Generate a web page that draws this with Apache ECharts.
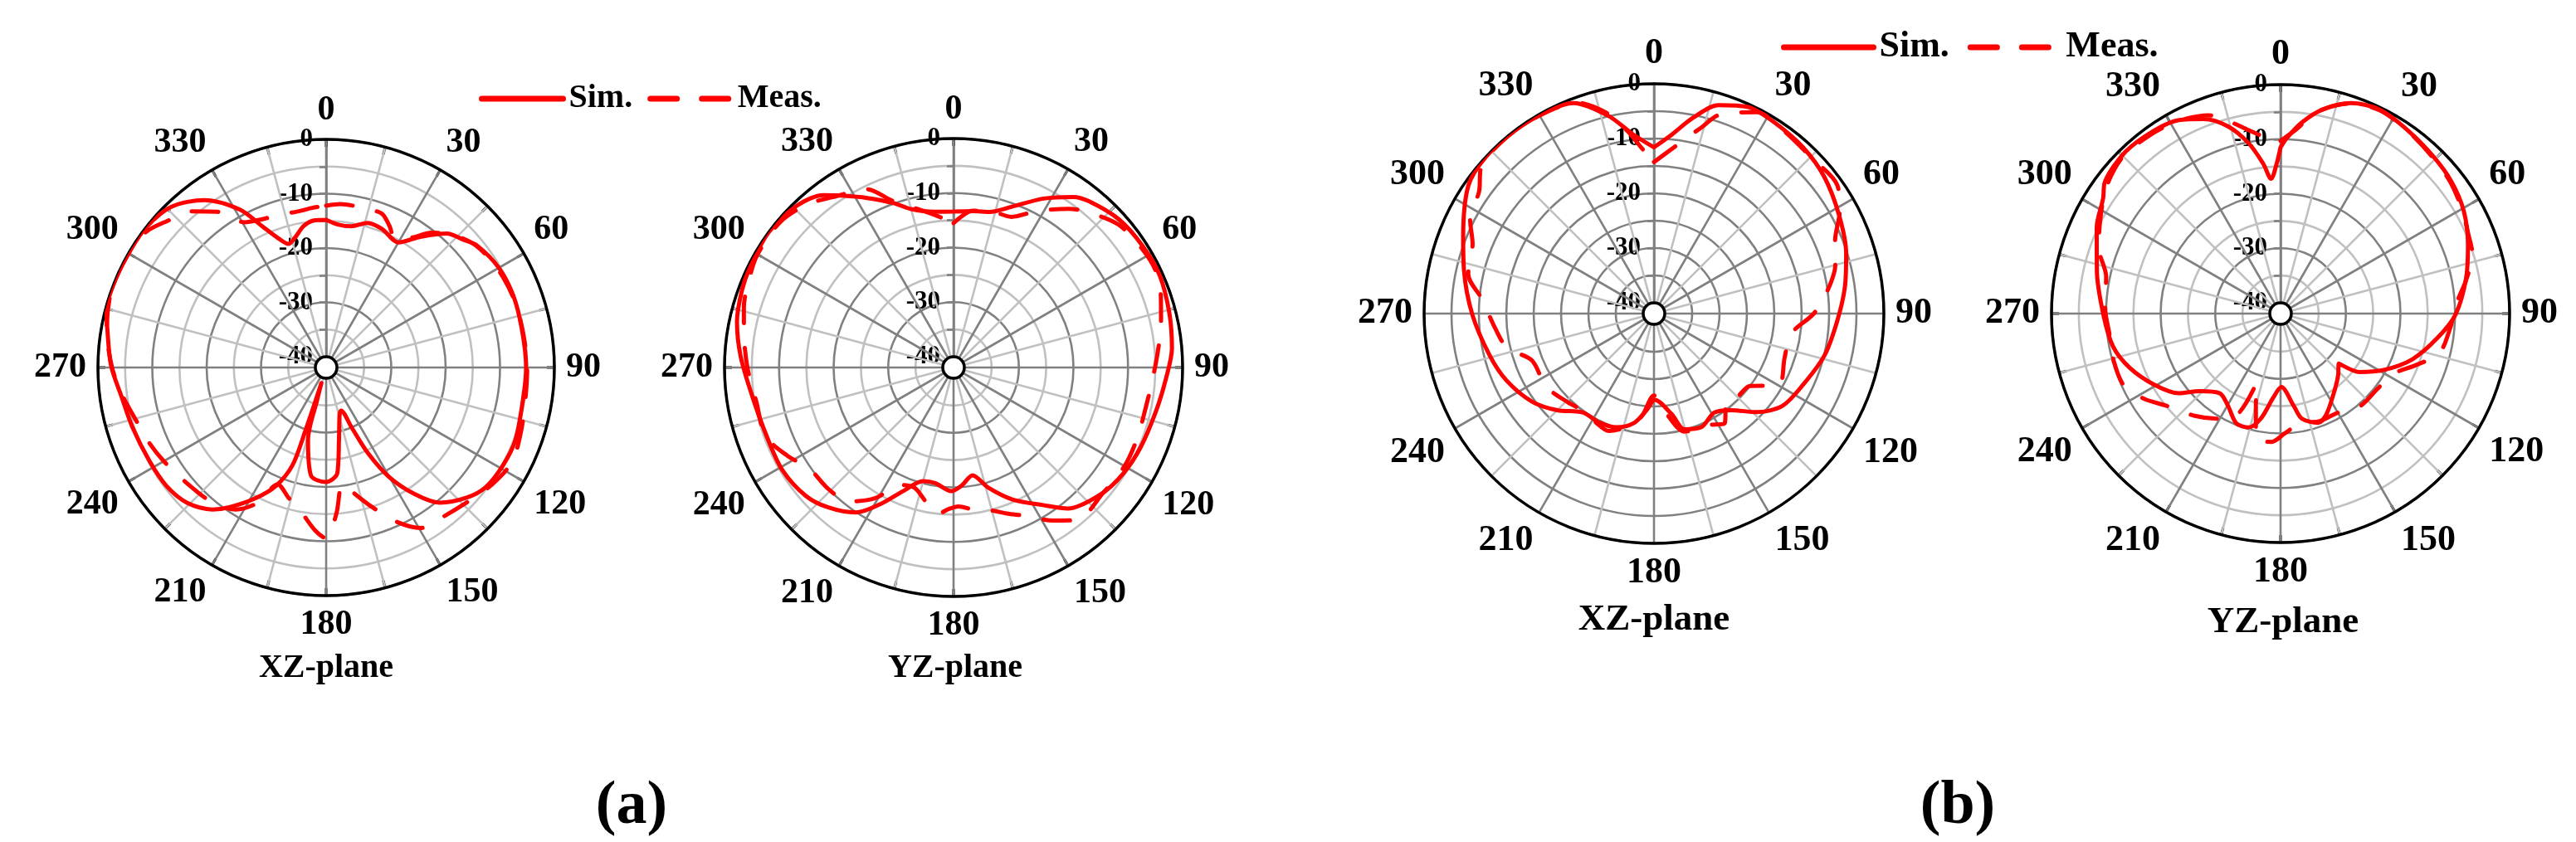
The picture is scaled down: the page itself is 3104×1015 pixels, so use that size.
<!DOCTYPE html>
<html><head><meta charset="utf-8">
<script src="https://cdn.jsdelivr.net/npm/echarts@6/dist/echarts.min.js"></script>
<style>html,body{margin:0;padding:0;background:#fff}#c{width:3104px;height:1015px}</style>
</head><body><div id="c"></div>
<script>
// ---------- tick labels ----------
const radiusTicks = [-40, -30, -20, -10, 0];
const angleTicks = [0, 30, 60, 90, 120, 150, 180, 210, 240, 270, 300, 330];
const legendNames = ['Sim.', 'Meas.'];
const panelTitles = ['XZ-plane', 'YZ-plane', 'XZ-plane', 'YZ-plane'];
const panelLetters = ['(a)', '(b)'];

// ---------- (a) XZ-plane ----------
const aXZ_sim_ang = [0,5,10,16,22,30,36,42,47,51,60,69,79,90,99,111,119,127,133,140,145,150,154,157,161,164,170,174,180,188,194,195.5,197,198.2,199,203,208.6,214.7,218.7,225.7,233.4,242,252.8,261.6,270.6,280.6,284.7,293,301,308,316,324,331.4,335.6,339.8,343,346.8,351,355.7,360];
const aXZ_sim_db  = [-14.8,-15.6,-15.6,-14.3,-14.5,-15.4,-12.2,-8.8,-7.5,-6.3,-5.3,-5.1,-5.3,-5.2,-5.3,-4.7,-4.8,-5.3,-6.8,-9.5,-13.5,-18.6,-24.5,-30,-33.6,-33,-28.4,-22.4,-20.9,-21.9,-28.2,-36,-39,-29.6,-23,-18.3,-14.5,-10.7,-8.5,-6.3,-5.4,-5.2,-4.7,-4.0,-2.4,-1,-0.2,0,0,0,-0.9,-3.9,-8.9,-13.4,-16.7,-18.2,-17.3,-15.6,-14.8,-14.8];
const aXZ_meas_ang = [0,5,10,15,20,24,28,33,38,44,50,57,64,71,80,90,102,110,117,125,133,141,149.5,155,161.7,167,172,176,180,184,190,196,202.5,207,212.5,220,231,240,247,255,262,270,280,290,300,307,313,319,325,330.6,336,343,349.7,355,360];
const aXZ_meas_db  = [-12.2,-11.8,-11.8,-11.8,-11.9,-13.4,-15,-13.5,-10.5,-8.2,-6.6,-5.8,-5.4,-5.2,-5.2,-5,-4.7,-4.1,-3.6,-4.6,-6,-7,-7.7,-10.5,-14.9,-18,-20.3,-15,-10.5,-12,-15.1,-17,-18.7,-14,-11,-9.5,-8.6,-7.5,-6.6,-5.6,-4.2,-2.6,-1,0,0,-0.5,-2.3,-3.9,-7,-11.3,-12.2,-12.6,-12.8,-12.5,-12.2];

// ---------- (a) YZ-plane ----------
const aYZ_sim_ang = [0,7,13,20,28,35,39,48,57,66,76,85,93,102,113,122,131,141,147,156,164,170,176,181,189,195,202,208,214,222,229,239,249,262,273,282,290,296,306,316,323,327,333,340,345,353,360];
const aYZ_sim_db  = [-13.4,-13.1,-12.7,-10.6,-6.9,-3.8,-2.7,-1.3,-0.8,-0.6,-1.2,-1.8,-3.0,-4.0,-4.7,-5.3,-6.4,-8.7,-11.9,-15.5,-19.1,-21.9,-20.3,-19.3,-20.5,-20.4,-17.6,-13.7,-9.9,-7.5,-6.1,-5.4,-5.5,-4.7,-2.9,-1.4,-0.7,-0.4,0,-0.7,-2.4,-4.4,-7.1,-9.9,-11.9,-13.2,-13.4];
const aYZ_meas_ang = [0,7,14,21,28,36,42,49,57,64,71,78,86,94,102,111,120,130,141,147,154,160,166,171,178,182,186,192,198,204,211,218,226,235,242,250,260,270,279,286,293,300,310,318,326,334,340,346,353,360];
const aYZ_meas_db  = [-15.5,-13,-12.5,-12.4,-9.5,-6,-4,-2,-1.2,-0.9,-1.8,-3.1,-4.5,-5.5,-6,-5.9,-5.8,-6.2,-6,-8.5,-11.7,-13.5,-15,-15.5,-16.5,-16,-15,-17,-18.8,-18.4,-14,-10.8,-10,-9.7,-7.5,-5.3,-5.3,-4.2,-3.1,-2,-1.2,-0.5,-0.5,-1.8,-4,-5.6,-9.5,-11.8,-13.8,-15.5];

// ---------- (b) XZ-plane ----------
const bXZ_sim_ang = [0,5.7,11.3,17.2,24.5,32,41.9,51.3,62,72.6,82.2,92.4,103.7,115.5,125.8,133.9,141.4,148.7,157.3,165.2,170,179.4,184.5,190.5,198.2,206.4,215.8,225,234.2,245.6,255.8,269.7,282.8,292,304.6,313,322.6,332.7,339.1,347,353.5,360];
const bXZ_sim_db  = [-11.6,-9.1,-5.5,-2.1,-0.5,-0.7,-1.2,-2.1,-3.7,-5.2,-6.8,-8.5,-9.9,-11.8,-13.1,-16,-19.4,-20.8,-19.5,-20.1,-23.3,-26.2,-24.2,-21.6,-20.1,-19.7,-19.7,-17,-14.5,-12.4,-11,-8.8,-6.4,-4.4,-0.8,0,0,-0.2,-0.8,-4.9,-9.1,-11.6];
const bXZ_meas_ang = [0,6,14,18.5,27,35,45,55,61,68,75,83,90,98.5,108.6,120,127,135,140,147,154,165.5,172,180,187,194,201,209,216,224,236,249,257,266,274.5,282,291,297,305,310,320,330,340,347,352,355.4,360];
const bXZ_meas_db  = [-14.3,-11.8,-7.1,-3.6,-0.7,-1,-1.5,-1.1,-3.2,-6.3,-7.7,-10.2,-12.8,-16.7,-16.8,-15.7,-20,-20.5,-21.5,-18.2,-19.3,-19.7,-23,-27,-23,-20.6,-19,-19.5,-20,-19.4,-18.2,-18.1,-14.4,-12.6,-10.6,-7.3,-6.5,-4.3,-3,-0.7,0,-0.2,-1,-4.5,-8.5,-11.4,-14.3];

// ---------- (b) YZ-plane ----------
const bYZ_sim_ang = [0,2,6.4,11.6,18.5,25.9,34.9,44,52.3,60.8,69.9,79.4,90.3,98.9,109.1,118.6,126.6,130.7,137,144.3,155.5,161,168.5,171.9,179.4,185,190.6,195.7,202,209.6,217.3,226.3,231.9,240.6,250.2,258.8,269.7,283.2,295,303,307,316.2,325.4,332.3,338.4,344.3,349.4,353.4,356,358.5,360];
const bYZ_sim_db  = [-11.5,-9.8,-6.7,-3.8,-1.3,-0.4,-1.1,-1.8,-2.4,-3.5,-5.4,-7.4,-9.9,-12.9,-16.4,-20.4,-24,-27.9,-26.5,-24.9,-21.7,-20.8,-22.3,-24.9,-28.5,-26.5,-22.4,-20.3,-20.3,-22.5,-23.6,-21.4,-18.3,-15.4,-12.6,-10.7,-9.5,-7.4,-4.8,-3.2,-1.7,-0.9,-1.2,-1.9,-3.6,-6.3,-10.2,-14.3,-17.2,-14.5,-11.5];
const bYZ_meas_ang = [0,5,10,18,26,35,44,52,60,67,73,80,86,95,104,111,118,128,139,150,160,170,178,184,191,195,199,203,211,220,231,238,245,254,263,272,282,290,298,306,315,325,332,340,345,350,355,360];
const bYZ_meas_db  = [-10.3,-8,-4.5,-1.5,-0.5,-1.2,-2,-2.6,-3.6,-4.6,-5.2,-7.5,-9.5,-10.8,-12,-15.5,-18.5,-19.5,-19.6,-21,-21,-21.5,-20,-18.4,-18.4,-24.5,-28.6,-22,-19.5,-17.5,-15.1,-12.5,-10.4,-10.2,-10.4,-9.8,-9.3,-6.5,-4.6,-2.5,-1.2,-1.5,-2,-3.3,-5.5,-7.8,-9.5,-10.3];

// ---------- layout / style ----------
const FONT = '"Liberation Serif", "Times New Roman", serif';
const DARK = '#808080', LIGHT = '#c0c0c0', RED = '#ff0000';
const panels = [
  {center:[393,443], R:275, fs:42, rings:[DARK, LIGHT], ticks:true,  sim:[aXZ_sim_ang,aXZ_sim_db],  meas:[aXZ_meas_ang,aXZ_meas_db]},
  {center:[1149,443], R:276, fs:42, rings:[DARK, LIGHT], ticks:true, sim:[aYZ_sim_ang,aYZ_sim_db],  meas:[aYZ_meas_ang,aYZ_meas_db]},
  {center:[1993,378], R:277, fs:44, rings:[DARK],        ticks:false, sim:[bXZ_sim_ang,bXZ_sim_db], meas:[bXZ_meas_ang,bXZ_meas_db]},
  {center:[2748,378], R:276, fs:44, rings:[DARK, LIGHT], ticks:true, sim:[bYZ_sim_ang,bYZ_sim_db],  meas:[bYZ_meas_ang,bYZ_meas_db]}
];

const polar = [], angleAxis = [], radiusAxis = [], series = [];
panels.forEach((p, i) => {
  polar.push({center: p.center, radius: [13, p.R]});
  angleAxis.push({
    polarIndex: i, type: 'value', min: 0, max: 360, interval: 15,
    startAngle: 90, clockwise: true, z: 3,
    axisLine: {show: true, lineStyle: {color: '#000', width: 3.5}},
    axisTick: {show: p.ticks, inside: true, length: 9, lineStyle: {color: '#000', width: 3}},
    axisLabel: {show: true, margin: 14, color: '#000', fontFamily: FONT, fontWeight: 'bold', fontSize: p.fs,
      formatter: v => angleTicks.includes(v) ? String(v) : ''},
    splitLine: {show: true, lineStyle: {color: [DARK, LIGHT], width: 2.6}}
  });
  radiusAxis.push({
    polarIndex: i, type: 'value', min: -40, max: 0, interval: 5, z: 2,
    axisLine: {show: true, lineStyle: {color: DARK, width: 2.6}},
    axisTick: {show: true, length: 8, lineStyle: {color: DARK, width: 2.6}},
    axisLabel: {show: true, margin: 16, color: '#000', fontFamily: FONT, fontWeight: 'bold', fontSize: 31,
      formatter: v => radiusTicks.includes(v) ? String(v) : ''},
    splitLine: {show: true, lineStyle: {color: p.rings, width: 2.6}}
  });
  series.push({
    name: legendNames[0], type: 'line', coordinateSystem: 'polar', polarIndex: i,
    data: p.sim[0].map((a, k) => [p.sim[1][k], a]),
    smooth: 0.3, symbol: 'none', showSymbol: false, clip: false, z: 5,
    lineStyle: {color: RED, width: 5, cap: 'round', join: 'round'}, itemStyle: {color: RED}
  });
  series.push({
    name: legendNames[1], type: 'line', coordinateSystem: 'polar', polarIndex: i,
    data: p.meas[0].map((a, k) => [p.meas[1][k], a]),
    smooth: 0.3, symbol: 'none', showSymbol: false, clip: false, z: 5,
    lineStyle: {color: RED, width: 5, type: [32, 30], cap: 'round', join: 'round'}, itemStyle: {color: RED}
  });
});

const legendBase = (left, top, w, fs, gap) => ({
  data: legendNames, left: left, top: top, orient: 'horizontal',
  itemWidth: w, itemHeight: 16, itemGap: gap, selectedMode: false,
  itemStyle: {opacity: 0},
  lineStyle: {width: 7, cap: 'round'},
  textStyle: {fontFamily: FONT, fontWeight: 'bold', fontSize: fs, color: '#000', padding: [0, 0, 0, 2]}
});

const textEl = (txt, x, y, fs) => ({
  type: 'text', x: x, y: y, z: 10,
  style: {text: txt, fill: '#000', font: 'bold ' + fs + 'px ' + FONT, textAlign: 'center', textVerticalAlign: 'middle'}
});

const chart = echarts.init(document.getElementById('c'));
chart.setOption({
  animation: false,
  backgroundColor: '#fff',
  polar: polar, angleAxis: angleAxis, radiusAxis: radiusAxis, series: series,
  legend: [legendBase(572, 94, 98, 40, 18), legendBase(2141, 30, 108, 44, 22)],
  graphic: [
    textEl(panelTitles[0], 393, 806, 40),
    textEl(panelTitles[1], 1151, 806, 40),
    textEl(panelTitles[2], 1993, 747, 45),
    textEl(panelTitles[3], 2751, 750, 45),
    textEl(panelLetters[0], 761, 973, 74),
    textEl(panelLetters[1], 2359, 973, 74)
  ]
});
</script>
</body></html>
